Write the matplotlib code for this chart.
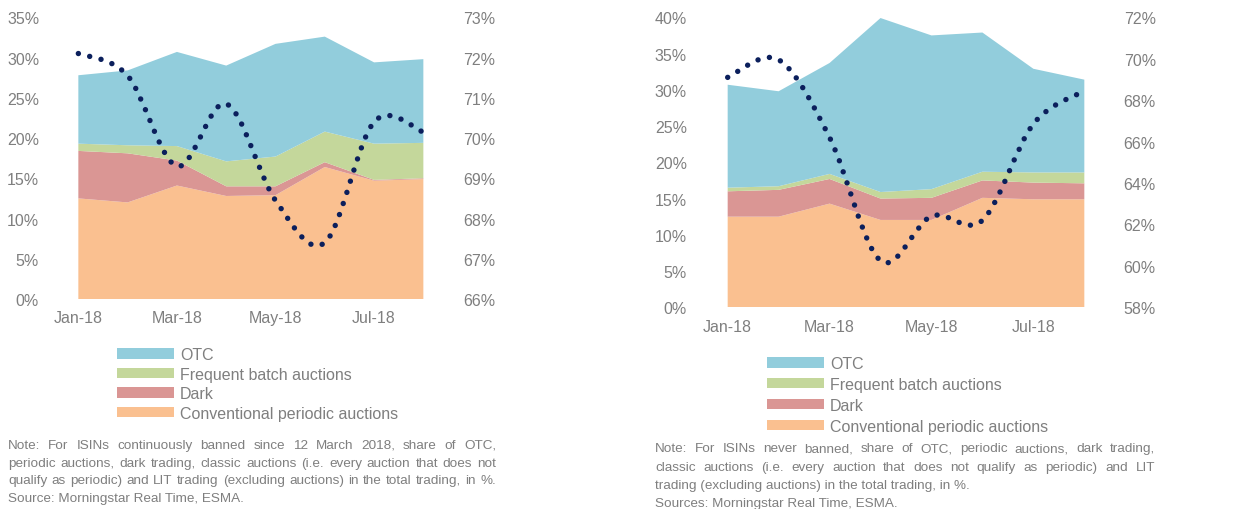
import matplotlib
matplotlib.use("Agg")
import matplotlib.pyplot as plt
from matplotlib.path import Path
from matplotlib.patches import PathPatch, Patch
from matplotlib.ticker import FuncFormatter
from matplotlib import font_manager

W, H = 1241, 510

months = ["Jan-18", "Feb-18", "Mar-18", "Apr-18", "May-18", "Jun-18", "Jul-18", "Aug-18"]
tick_months = [0, 2, 4, 6]

# left panel: ISINs continuously banned since 12 March 2018 (% of total trading)
banned_conv = [12.5, 12.0, 14.1, 12.8, 12.9, 16.4, 14.7, 14.9]
banned_dark = [5.9, 6.1, 3.1, 1.2, 1.1, 0.6, 0.1, 0.1]
banned_fba = [0.9, 1.0, 1.8, 3.1, 3.7, 3.8, 4.5, 4.4]
banned_otc = [8.5, 9.3, 11.7, 11.9, 14.0, 11.8, 10.1, 10.4]
banned_other = [72.1, 71.55, 69.3, 70.85, 68.45, 67.4, 70.4, 70.15]  # right axis

# right panel: ISINs never banned
never_conv = [12.5, 12.5, 14.3, 12.05, 12.05, 15.1, 14.9, 14.9]
never_dark = [3.5, 3.7, 3.4, 2.95, 3.05, 2.4, 2.3, 2.2]
never_fba = [0.5, 0.5, 0.7, 0.9, 1.2, 1.2, 1.4, 1.5]
never_otc = [14.2, 13.1, 15.3, 24.0, 21.2, 19.2, 14.3, 12.8]
never_other = [69.1, 69.95, 66.2, 60.25, 62.4, 62.2, 66.85, 68.45]  # right axis

series_labels = ["Conventional periodic auctions", "Dark", "Frequent batch auctions", "OTC"]
colors = ["#FAC090", "#DA9694", "#C4D79B", "#92CDDC"]
dot_color = "#0B1F5C"
grey = "#7F7F7F"

installed = {f.name for f in font_manager.fontManager.ttflist}
family = ["Liberation Sans Narrow"] if "Liberation Sans Narrow" in installed else ["Liberation Sans"]
plt.rcParams["font.family"] = family + ["DejaVu Sans"]

TICK_FS = 11.5
NOTE_FS = 9.7

notes_left = [
    "Note: For ISINs continuously banned since 12 March 2018, share of OTC,",
    "periodic auctions, dark trading, classic auctions (i.e. every auction that does not",
    "qualify as periodic) and LIT trading (excluding auctions) in the total trading, in %.",
    "Source: Morningstar Real Time, ESMA.",
]
notes_right = [
    "Note: For ISINs never banned, share of OTC, periodic auctions, dark trading,",
    "classic auctions (i.e. every auction that does not qualify as periodic) and LIT",
    "trading (excluding auctions) in the total trading, in %.",
    "Sources: Morningstar Real Time, ESMA.",
]


def px(x0, y_top, x1, y_bottom):
    return [x0 / W, 1 - y_bottom / H, (x1 - x0) / W, (y_bottom - y_top) / H]


def smooth_path(xs, ys):
    # Excel-style smoothed line: cubic bezier segments through the data points
    verts = [(xs[0], ys[0])]
    codes = [Path.MOVETO]
    n = len(xs)
    for i in range(n - 1):
        p0 = (xs[max(i - 1, 0)], ys[max(i - 1, 0)])
        p1 = (xs[i], ys[i])
        p2 = (xs[i + 1], ys[i + 1])
        p3 = (xs[min(i + 2, n - 1)], ys[min(i + 2, n - 1)])
        c1 = (p1[0] + (p2[0] - p0[0]) / 6, p1[1] + (p2[1] - p0[1]) / 6)
        c2 = (p2[0] - (p3[0] - p1[0]) / 6, p2[1] - (p3[1] - p1[1]) / 6)
        verts += [c1, c2, p2]
        codes += [Path.CURVE4] * 3
    return Path(verts, codes)


def panel(fig, rect, stacks, other, ylim, yticks, y2lim, y2ticks, lpad, rpad, xpad):
    ax = fig.add_axes(rect)
    x = list(range(len(months)))
    ax.stackplot(x, *stacks, colors=colors, linewidth=0)
    ax.set_xlim(-0.5, 7.5)
    ax.set_ylim(*ylim)
    ax.set_yticks(yticks)
    ax.set_xticks(tick_months)
    ax.set_xticklabels([months[i] for i in tick_months])
    ax.yaxis.set_major_formatter(FuncFormatter(lambda v, p: f"{v:.0f}%"))
    ax.tick_params(length=0, labelsize=TICK_FS, colors=grey, pad=lpad)
    ax.tick_params(axis="x", pad=xpad)

    ax2 = ax.twinx()
    ax2.set_ylim(*y2lim)
    ax2.set_yticks(y2ticks)
    ax2.yaxis.set_major_formatter(FuncFormatter(lambda v, p: f"{v:.0f}%"))
    ax2.tick_params(length=0, labelsize=TICK_FS, colors=grey, pad=rpad)
    line = PathPatch(smooth_path(x, other), fill=False, edgecolor=dot_color,
                     linewidth=3.9, linestyle=(0, (0.01, 2.15)), capstyle="round",
                     transform=ax2.transData, clip_on=False)
    ax2.add_patch(line)

    for a in (ax, ax2):
        for s in a.spines.values():
            s.set_visible(False)
    return ax


def legend_block(fig, x, y, spacing):
    handles = [Patch(facecolor=c, edgecolor="none") for c in colors[::-1]]
    fig.legend(handles, series_labels[::-1], loc="upper left",
               bbox_to_anchor=(x / W, 1 - y / H), frameon=False, fontsize=TICK_FS,
               labelcolor=grey, handlelength=3.57, handleheight=0.62,
               handletextpad=0.37, labelspacing=spacing, borderaxespad=0, borderpad=0)


def justified_notes(fig, lines, x0, x1, y0, step, justify_count):
    renderer = fig.canvas.get_renderer()
    for k, line in enumerate(lines):
        y = 1 - (y0 + k * step + 4.5) / H
        if k >= justify_count:
            fig.text(x0 / W, y, line, fontsize=NOTE_FS, color=grey, va="baseline")
            continue
        words = line.split()
        texts = [fig.text(0, y, w, fontsize=NOTE_FS, color=grey, va="baseline") for w in words]
        widths = [t.get_window_extent(renderer).width for t in texts]
        gap = (x1 - x0 - sum(widths)) / (len(words) - 1)
        pos = x0
        for t, w in zip(texts, widths):
            t.set_x(pos / W)
            pos += w + gap


fig = plt.figure(figsize=(W / 100, H / 100), dpi=100)

panel(fig, px(53.7, 18.3, 448.0, 300.0),
      [banned_conv, banned_dark, banned_fba, banned_otc], banned_other,
      (0, 35), range(0, 36, 5), (66, 73), range(66, 74), 10.5, 10.8, 8)
panel(fig, px(702.2, 18.3, 1109.8, 308.3),
      [never_conv, never_dark, never_fba, never_otc], never_other,
      (0, 40), range(0, 41, 5), (58, 72), range(58, 73, 2), 11, 10, 8.5)

legend_block(fig, 117, 348, 0.29)
legend_block(fig, 767, 357, 0.37)

justified_notes(fig, notes_left, 8, 496, 444.5, 17.7, 3)
justified_notes(fig, notes_right, 655, 1155, 448, 18.1, 2)

fig.savefig("out.png", dpi=100)
